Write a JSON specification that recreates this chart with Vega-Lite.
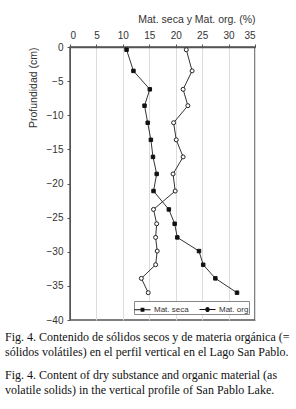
{
  "$schema": "https://vega.github.io/schema/vega-lite/v6.json",
  "width": 185,
  "height": 273,
  "autosize": {"type": "none"},
  "padding": {"left": 70, "top": 47, "right": 41, "bottom": 89},
  "background": "white",
  "title": {
    "text": ["Fig. 4. Contenido de sólidos secos y de materia orgánica (=", "sólidos volátiles) en el perfil vertical en el Lago San Pablo."],
    "subtitle": ["Fig. 4. Content of dry substance and organic material (as", "volatile solids) in the vertical profile of San Pablo Lake."],
    "orient": "bottom",
    "anchor": "start",
    "frame": "group",
    "dx": -65,
    "offset": 7,
    "font": "Liberation Serif",
    "fontSize": 12,
    "fontWeight": "normal",
    "color": "#111",
    "lineHeight": 15,
    "subtitleFont": "Liberation Serif",
    "subtitleFontSize": 12,
    "subtitleColor": "#111",
    "subtitleLineHeight": 15,
    "subtitlePadding": 11
  },
  "data": {
    "values": [
      {"series": "Mat. seca", "depth": -0.4, "value": 10.7},
      {"series": "Mat. seca", "depth": -3.5, "value": 12.0},
      {"series": "Mat. seca", "depth": -6.2, "value": 15.1},
      {"series": "Mat. seca", "depth": -8.6, "value": 14.1},
      {"series": "Mat. seca", "depth": -11.1, "value": 14.7},
      {"series": "Mat. seca", "depth": -13.6, "value": 15.3},
      {"series": "Mat. seca", "depth": -16.1, "value": 15.7},
      {"series": "Mat. seca", "depth": -18.6, "value": 16.4},
      {"series": "Mat. seca", "depth": -21.1, "value": 15.8},
      {"series": "Mat. seca", "depth": -23.8, "value": 18.7},
      {"series": "Mat. seca", "depth": -25.9, "value": 19.8},
      {"series": "Mat. seca", "depth": -27.9, "value": 20.3},
      {"series": "Mat. seca", "depth": -29.9, "value": 24.4},
      {"series": "Mat. seca", "depth": -31.9, "value": 25.2},
      {"series": "Mat. seca", "depth": -33.9, "value": 27.5},
      {"series": "Mat. seca", "depth": -36.0, "value": 31.6},
      {"series": "Mat. org", "depth": -0.4, "value": 22.0},
      {"series": "Mat. org", "depth": -3.5, "value": 23.1},
      {"series": "Mat. org", "depth": -6.2, "value": 21.4},
      {"series": "Mat. org", "depth": -8.6, "value": 22.3},
      {"series": "Mat. org", "depth": -11.1, "value": 19.6},
      {"series": "Mat. org", "depth": -13.6, "value": 20.1},
      {"series": "Mat. org", "depth": -16.1, "value": 21.4},
      {"series": "Mat. org", "depth": -18.6, "value": 19.5},
      {"series": "Mat. org", "depth": -21.1, "value": 19.9},
      {"series": "Mat. org", "depth": -23.8, "value": 15.8},
      {"series": "Mat. org", "depth": -25.9, "value": 16.4},
      {"series": "Mat. org", "depth": -27.9, "value": 16.2},
      {"series": "Mat. org", "depth": -29.9, "value": 16.5},
      {"series": "Mat. org", "depth": -31.9, "value": 16.2},
      {"series": "Mat. org", "depth": -33.9, "value": 13.5},
      {"series": "Mat. org", "depth": -36.0, "value": 14.8}
    ]
  },
  "encoding": {
    "x": {
      "field": "value",
      "type": "quantitative",
      "scale": {"domain": [0, 35], "nice": false, "zero": false},
      "axis": {
        "orient": "top",
        "title": "Mat. seca y Mat. org. (%)",
        "titleAnchor": "end",
        "titleFont": "Liberation Sans",
        "titleFontSize": 10.5,
        "titleFontWeight": "normal",
        "titleColor": "#333",
        "titlePadding": 6,
        "values": [0, 5, 10, 15, 20, 25, 30, 35],
        "labelFont": "Liberation Sans",
        "labelFontSize": 10,
        "labelColor": "#333",
        "labelPadding": 4,
        "tickSize": 3,
        "tickColor": "#555",
        "domainColor": "#555",
        "domainWidth": 1.5,
        "grid": true,
        "gridColor": "#dcdcdc",
        "gridWidth": 1
      }
    },
    "y": {
      "field": "depth",
      "type": "quantitative",
      "scale": {"domain": [-40, 0], "nice": false, "zero": false},
      "axis": {
        "title": "Profundidad (cm)",
        "titleAnchor": "end",
        "titleFont": "Liberation Sans",
        "titleFontSize": 10.5,
        "titleFontWeight": "normal",
        "titleColor": "#333",
        "titlePadding": 8,
        "values": [0, -5, -10, -15, -20, -25, -30, -35, -40],
        "labelFont": "Liberation Sans",
        "labelFontSize": 10,
        "labelColor": "#333",
        "labelPadding": 4,
        "tickSize": 3,
        "tickColor": "#555",
        "domainColor": "#555",
        "grid": false
      }
    }
  },
  "layer": [
    {
      "mark": {"type": "line", "color": "#333", "strokeWidth": 1},
      "encoding": {
        "detail": {"field": "series"},
        "order": {"field": "depth", "sort": "descending"}
      }
    },
    {
      "transform": [{"filter": "datum.series == 'Mat. seca'"}],
      "mark": {"type": "point", "shape": "square", "filled": true, "fill": "#111", "stroke": "#111", "strokeWidth": 1, "opacity": 1, "size": 12}
    },
    {
      "transform": [{"filter": "datum.series == 'Mat. org'"}],
      "mark": {"type": "point", "shape": "circle", "filled": true, "fill": "white", "stroke": "#222", "strokeWidth": 1, "opacity": 1, "size": 16}
    },
    {
      "mark": {"type": "point", "filled": true, "fill": "#111", "stroke": "#222", "strokeWidth": 1, "opacity": 0, "size": 256},
      "encoding": {
        "shape": {
          "field": "series",
          "type": "nominal",
          "scale": {
            "domain": ["Mat. seca", "Mat. org"],
            "range": [
              "M-1,-0.05L-0.24,-0.05L-0.24,-0.24L0.24,-0.24L0.24,-0.05L1,-0.05L1,0.05L0.24,0.05L0.24,0.24L-0.24,0.24L-0.24,0.05L-1,0.05Z",
              "M-1,-0.05L-0.26,-0.05A0.26,0.26,0,0,1,0.26,-0.05L1,-0.05L1,0.05L0.26,0.05A0.26,0.26,0,0,1,-0.26,0.05L-1,0.05Z"
            ]
          },
          "legend": {
            "title": null,
            "orient": "bottom-right",
            "direction": "horizontal",
            "offset": 6,
            "padding": 0,
            "fillColor": "white",
            "strokeColor": "#888",
            "labelFont": "Liberation Sans",
            "labelFontSize": 8,
            "labelColor": "#333",
            "symbolSize": 256,
            "symbolStrokeWidth": 1,
            "symbolStrokeColor": "#222",
            "columnPadding": 8,
            "labelOffset": 3,
            "encode": {
              "symbols": {
                "fill": {
                  "condition": {"test": "datum.value == 'Mat. seca'", "value": "#111"},
                  "value": "#aaa"
                },
                "stroke": {"value": "#222"},
                "strokeWidth": {"value": 0.8},
                "opacity": {"value": 1},
                "size": {"value": 256}
              }
            }
          }
        }
      }
    }
  ],
  "config": {
    "view": {"stroke": "#555", "strokeWidth": 1.5}
  }
}
